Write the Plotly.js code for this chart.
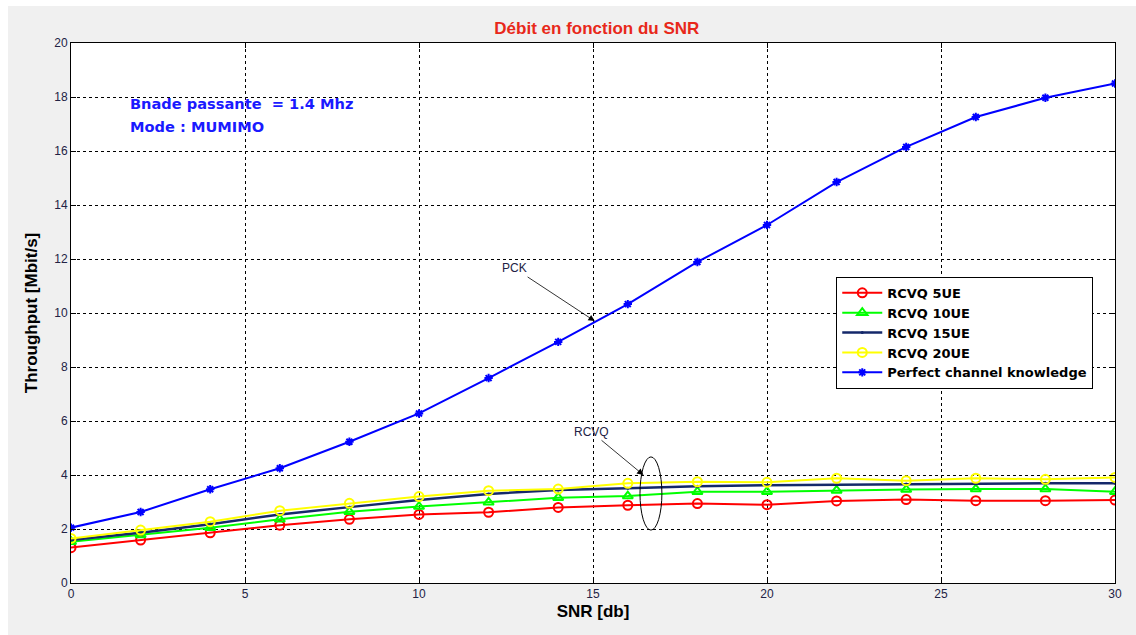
<!DOCTYPE html>
<html>
<head>
<meta charset="utf-8">
<script src="https://cdn.plot.ly/plotly-3.0.1.min.js"></script>
<style>
  html, body { margin: 0; padding: 0; background: #ffffff; }
  #chart { position: absolute; left: 8px; top: 6px; width: 1128px; height: 629px; }
</style>
</head>
<body>
<div id="chart"></div>
<script>
const snr = [0, 2, 4, 6, 8, 10, 12, 14, 16, 18, 20, 22, 24, 26, 28, 30];

const rcvq5 = [1.31, 1.59, 1.86, 2.14, 2.36, 2.54, 2.62, 2.80, 2.88, 2.94, 2.90, 3.04, 3.09, 3.05, 3.05, 3.07];
const rcvq10 = [1.53, 1.78, 2.05, 2.36, 2.64, 2.83, 2.99, 3.16, 3.22, 3.38, 3.38, 3.43, 3.46, 3.48, 3.48, 3.38];
const rcvq15 = [1.59, 1.86, 2.18, 2.54, 2.81, 3.07, 3.30, 3.44, 3.51, 3.58, 3.62, 3.64, 3.67, 3.68, 3.69, 3.69];
const rcvq20 = [1.65, 1.96, 2.27, 2.68, 2.95, 3.20, 3.42, 3.48, 3.69, 3.75, 3.73, 3.88, 3.79, 3.88, 3.84, 3.91];
const pck = [2.05, 2.63, 3.47, 4.25, 5.23, 6.28, 7.59, 8.93, 10.33, 11.89, 13.26, 14.85, 16.15, 17.26, 17.97, 18.5];

const seriesNames = ["RCVQ 5UE", "RCVQ 10UE", "RCVQ 15UE", "RCVQ 20UE", "Perfect channel knowledge"];
const xTicks = [0, 5, 10, 15, 20, 25, 30];
const yTicks = [0, 2, 4, 6, 8, 10, 12, 14, 16, 18, 20];

const FONT = "Arial, 'Liberation Sans', sans-serif";
const WIDE = "'DejaVu Sans', Arial, sans-serif";

const traces = [
  { x: snr, y: rcvq5, name: seriesNames[0], mode: "lines+markers",
    line: { color: "#ff0000", width: 2 },
    marker: { symbol: "circle-open", size: 9, color: "#ff0000", line: { width: 2, color: "#ff0000" } } },
  { x: snr, y: rcvq10, name: seriesNames[1], mode: "lines+markers",
    line: { color: "#00ff00", width: 2 },
    marker: { symbol: "triangle-up-open", size: 9, color: "#00ff00", line: { width: 2, color: "#00ff00" } } },
  { x: snr, y: rcvq15, name: seriesNames[2], mode: "lines+markers",
    line: { color: "#14286a", width: 2.5 },
    marker: { symbol: "circle", size: 3, color: "#14286a" } },
  { x: snr, y: rcvq20, name: seriesNames[3], mode: "lines+markers",
    line: { color: "#ffff00", width: 2 },
    marker: { symbol: "circle-open", size: 9, color: "#ffff00", line: { width: 2, color: "#ffff00" } } },
  { x: snr, y: pck, name: seriesNames[4], mode: "lines+markers",
    line: { color: "#0000ff", width: 2 },
    marker: { symbol: "asterisk", size: 7, color: "#0000ff", line: { width: 2, color: "#0000ff" } } }
];

const axisCommon = {
  showline: true, mirror: "ticks", linecolor: "#000000", linewidth: 1,
  ticks: "inside", ticklen: 5, tickcolor: "#000000",
  showgrid: true, gridcolor: "#000000", gridwidth: 1, griddash: "3px,3px",
  zeroline: false,
  tickfont: { family: FONT, size: 12, color: "#222244" }
};

const layout = {
  width: 1128, height: 629,
  paper_bgcolor: "#f0f0f0", plot_bgcolor: "#ffffff",
  margin: { l: 63, r: 21, t: 37, b: 52 },
  showlegend: true,
  title: { text: "<b>Débit en fonction du SNR</b>", x: 0.522, xanchor: "center", y: 0.965, yanchor: "middle",
           font: { family: FONT, size: 17, color: "#e8281a" } },
  xaxis: Object.assign({}, axisCommon, {
    range: [0, 30], tickvals: xTicks, ticktext: xTicks.map(String),
    title: { text: "<b>SNR [db]</b>", font: { family: FONT, size: 17, color: "#000000" }, standoff: 4 }
  }),
  yaxis: Object.assign({}, axisCommon, {
    range: [0, 20], tickvals: yTicks, ticktext: yTicks.map(String),
    title: { text: "<b>Throughput [Mbit/s]</b>", font: { family: FONT, size: 17, color: "#000000" }, standoff: 12 }
  }),
  legend: {
    x: 0.733, y: 0.567, xanchor: "left", yanchor: "top",
    bgcolor: "#ffffff", bordercolor: "#000000", borderwidth: 1,
    font: { family: WIDE, size: 13, color: "#000000", weight: "bold" },
    tracegroupgap: 0, itemwidth: 40
  },
  annotations: [
    { x: 15.05, y: 9.7, xref: "x", yref: "y", ax: 12.75, ay: 11.65, axref: "x", ayref: "y",
      text: "PCK", showarrow: true, arrowhead: 2, arrowsize: 1.6, arrowwidth: 0.8, arrowcolor: "#000000",
      font: { family: FONT, size: 12, color: "#222244" } },
    { x: 16.45, y: 4.0, xref: "x", yref: "y", ax: 14.95, ay: 5.6, axref: "x", ayref: "y",
      text: "RCVQ", showarrow: true, arrowhead: 2, arrowsize: 1.6, arrowwidth: 0.8, arrowcolor: "#000000",
      font: { family: FONT, size: 12, color: "#222244" } },
    { x: 1.65, y: 17.76, xref: "x", yref: "y", xanchor: "left", yanchor: "middle", showarrow: false, align: "left",
      text: "<b>Bnade passante  = 1.4 Mhz</b>", font: { family: WIDE, size: 14.6, color: "#1a1aff" } },
    { x: 1.65, y: 16.9, xref: "x", yref: "y", xanchor: "left", yanchor: "middle", showarrow: false, align: "left",
      text: "<b>Mode : MUMIMO</b>", font: { family: WIDE, size: 14.6, color: "#1a1aff" } }
  ],
  shapes: [
    { type: "circle", xref: "x", yref: "y", x0: 16.35, x1: 16.98, y0: 1.96, y1: 4.67,
      line: { color: "#000000", width: 1 } }
  ]
};

Plotly.newPlot("chart", traces, layout, { displayModeBar: false, staticPlot: true });
</script>
</body>
</html>
